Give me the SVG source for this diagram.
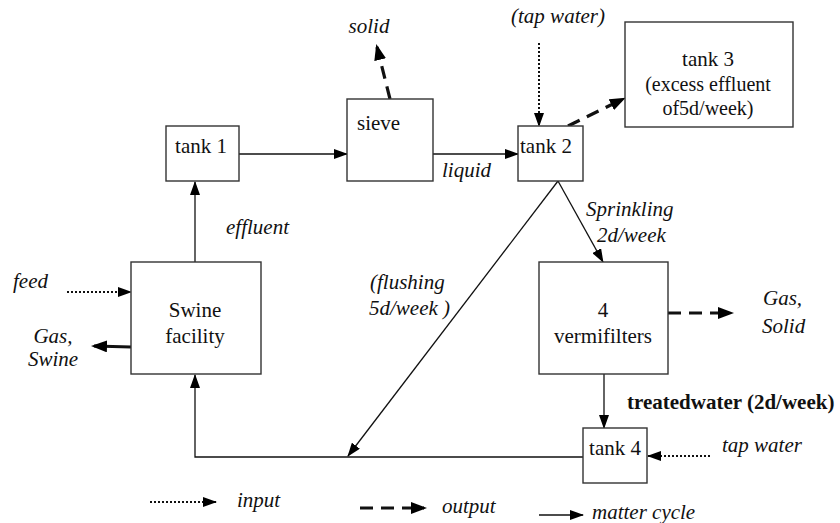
<svg xmlns="http://www.w3.org/2000/svg" width="840" height="523" viewBox="0 0 840 523" font-family="'Liberation Serif', 'Times New Roman', serif">
<defs>
<marker id="ah" viewBox="0 0 14 10" refX="13" refY="5" markerWidth="14" markerHeight="10" markerUnits="userSpaceOnUse" orient="auto"><path d="M0,0 L14,5 L0,10 z" fill="#000"/></marker>
<marker id="ahb" viewBox="0 0 16 12" refX="13" refY="6" markerWidth="16" markerHeight="12" markerUnits="userSpaceOnUse" orient="auto"><path d="M0,0 L16,6 L0,12 z" fill="#000"/></marker>
</defs>
<style>
.box{fill:#fff;stroke:#333;stroke-width:1.4}
text{font-family:'Liberation Serif','Times New Roman',serif;font-size:21px;fill:#111}
.s{font-size:20px}
.i{font-style:italic}
.b{font-weight:bold}
.c{text-anchor:middle}
.solid{fill:none;stroke:#111;stroke-width:1.3;marker-end:url(#ah)}
.dash{fill:none;stroke:#111;stroke-width:3.2;stroke-dasharray:13 8;marker-end:url(#ahb)}
.dot{fill:none;stroke:#111;stroke-width:2;stroke-dasharray:2 2;marker-end:url(#ah)}
</style>
<rect width="840" height="523" fill="#fff"/>
<g id="connectors">
<path class="solid" d="M195,262 L195,182"/>
<path class="solid" d="M239,154 L347,154"/>
<path class="dash" d="M390,99 L377,47"/>
<path class="solid" d="M433,154 L518,154"/>
<path class="dot" d="M539,43 L539,126"/>
<path class="dash" d="M568,126 L623,99"/>
<path class="solid" d="M558,181 L603,262"/>
<path class="solid" d="M558,181 L348,456"/>
<path class="dash" d="M668,313 L731,313"/>
<path class="solid" d="M604,374 L604,428"/>
<path class="dot" d="M710,456 L648,456"/>
<path class="solid" d="M583,457 L195,457 L195,375"/>
<path class="dot" d="M67,292 L131,292"/>
<path class="dash" d="M131,347 L94,346" style="stroke-dasharray:none"/>
</g>
<g id="tank1"><rect class="box" x="166" y="126" width="73" height="55"/><text class="c" x="201" y="153">tank 1</text></g>
<g id="sieve"><rect class="box" x="347" y="99" width="86" height="82"/><text x="357" y="130">sieve</text></g>
<g id="tank2"><rect class="box" x="518" y="126" width="65" height="55"/><text x="520" y="153">tank 2</text></g>
<g id="tank3"><rect class="box" x="625" y="22" width="168" height="105"/><text class="c" x="708" y="66">tank 3</text><text class="c s" x="708" y="91">(excess effluent</text><text class="c s" x="708" y="115">of5d/week)</text></g>
<g id="swine"><rect class="box" x="131" y="262" width="130" height="112"/><text class="c" x="195" y="317">Swine</text><text class="c" x="195" y="343">facility</text></g>
<g id="vermifilters"><rect class="box" x="539" y="262" width="129" height="112"/><text class="c" x="603" y="317">4</text><text class="c" x="603" y="343">vermifilters</text></g>
<g id="tank4"><rect class="box" x="583" y="428" width="64" height="55"/><text class="c" x="615" y="455">tank 4</text></g>
<g id="labels">
<text class="i c" x="369" y="33">solid</text>
<text class="i" x="226" y="234">effluent</text>
<text class="i" x="442" y="177">liquid</text>
<text class="i c" x="558" y="23">(tap water)</text>
<text class="i" x="586" y="216">Sprinkling</text>
<text class="i" x="597" y="242">2d/week</text>
<text class="i" x="370" y="289">(flushing</text>
<text class="i" x="369" y="315">5d/week )</text>
<text class="i" x="13" y="288">feed</text>
<text class="i c" x="53" y="343">Gas,</text>
<text class="i c" x="53" y="366">Swine</text>
<text class="i" x="763" y="305">Gas,</text>
<text class="i" x="762" y="333">Solid</text>
<text class="b" x="627" y="409">treatedwater (2d/week)</text>
<text class="i" x="722" y="452">tap water</text>
</g>
<g id="legend">
<path class="dot" d="M150,502 L216,502"/>
<text class="i" x="237" y="507">input</text>
<path class="dash" d="M360,508 L424,508"/>
<text class="i" x="442" y="513">output</text>
<path class="solid" d="M539,515 L583,515"/>
<text class="i" x="592" y="519">matter cycle</text>
</g>
</svg>
